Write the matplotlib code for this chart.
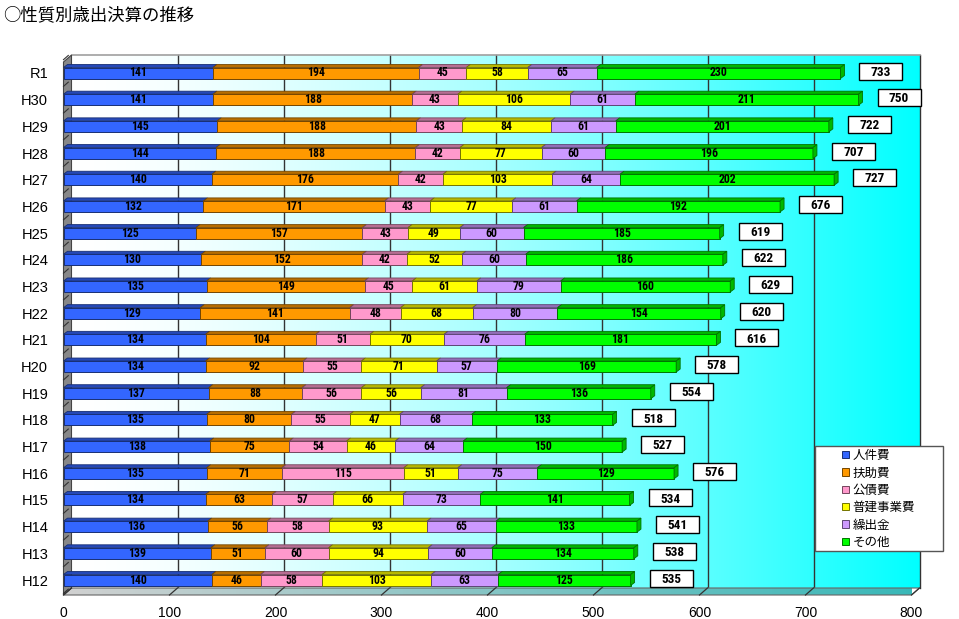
import numpy as np
import matplotlib
matplotlib.use('Agg')
import matplotlib.pyplot as plt
from matplotlib import font_manager as fm
from matplotlib.patches import Polygon, Rectangle
from matplotlib.colors import to_rgb

# ---------------- data ----------------
categories = ['R1', 'H30', 'H29', 'H28', 'H27', 'H26', 'H25', 'H24', 'H23', 'H22',
              'H21', 'H20', 'H19', 'H18', 'H17', 'H16', 'H15', 'H14', 'H13', 'H12']
series_names = ['人件費', '扶助費', '公債費', '普建事業費', '繰出金', 'その他']
personnel = [141, 141, 145, 144, 140, 132, 125, 130, 135, 129, 134, 134, 137, 135, 138, 135, 134, 136, 139, 140]
assistance = [194, 188, 188, 188, 176, 171, 157, 152, 149, 141, 104, 92, 88, 80, 75, 71, 63, 56, 51, 46]
debt = [45, 43, 43, 42, 42, 43, 43, 42, 45, 48, 51, 55, 56, 55, 54, 115, 57, 58, 60, 58]
construction = [58, 106, 84, 77, 103, 77, 49, 52, 61, 68, 70, 71, 56, 47, 46, 51, 66, 93, 94, 103]
transfers = [65, 61, 61, 60, 64, 61, 60, 60, 79, 80, 76, 57, 81, 68, 64, 75, 73, 65, 60, 63]
other = [230, 211, 201, 196, 202, 192, 185, 186, 160, 154, 181, 169, 136, 133, 150, 129, 141, 133, 134, 125]
totals = [733, 750, 722, 707, 727, 676, 619, 622, 629, 620, 616, 578, 554, 518, 527, 576, 534, 541, 538, 535]
xticks = [0, 100, 200, 300, 400, 500, 600, 700, 800]
title = '○性質別歳出決算の推移'

series = [personnel, assistance, debt, construction, transfers, other]
face_colors = ['#3366FF', '#FF9900', '#FF99CC', '#FFFF00', '#CC99FF', '#00FF00']


def pick(names):
    for n in names:
        try:
            fm.findfont(fm.FontProperties(family=n), fallback_to_default=False)
            return n
        except Exception:
            pass
    return 'DejaVu Sans'


CJK = pick(['Noto Sans CJK JP', 'Noto Sans CJK SC'])
NARROW = pick(['Liberation Sans Narrow', 'Roboto Condensed', 'DejaVu Sans'])
SANS = pick(['Liberation Sans', 'Arial', 'DejaVu Sans'])

W, H = 959, 619
fig = plt.figure(figsize=(W / 100, H / 100), dpi=100)
fig.patch.set_facecolor('white')

# front plane layout (pixels)
ax_left_px, ax_right_px = 63.5, 911.5
ax_top_px, ax_bot_px = 62, 595
first_c, last_c = 73, 580
ax = fig.add_axes([ax_left_px / W, 1 - ax_bot_px / H,
                   (ax_right_px - ax_left_px) / W, (ax_bot_px - ax_top_px) / H])
ax.set_facecolor('none')

n = len(categories)
ypos = np.arange(n)
row_px = (last_c - first_c) / (n - 1)
y_top = -(first_c - ax_top_px) / row_px
y_bot = (n - 1) + (ax_bot_px - last_c) / row_px
xmax = xticks[-1]

ux = xmax / (ax_right_px - ax_left_px)   # data units per pixel (x)
uy = -1.0 / row_px                        # data units per pixel upward (y)

wall_dx, wall_dy = 8 * ux, 7 * uy
bd_x, bd_y = 4 * ux, 3 * uy
bar_h = 11 / row_px

# back wall gradient
t = np.linspace(0, 1, 400)
r = 1 - t ** 1.5
grad = np.dstack([r, np.ones_like(t), np.ones_like(t)])
ax.imshow(grad, extent=[wall_dx, xmax + wall_dx, y_bot + wall_dy, y_top + wall_dy],
          aspect='auto', zorder=0, clip_on=False, interpolation='bilinear')

# gridlines on back wall
for v in xticks[1:]:
    ax.plot([v + wall_dx, v + wall_dx], [y_bot + wall_dy, y_top + wall_dy],
            color='#333333', lw=1.0, zorder=1, clip_on=False)
ax.plot([wall_dx, xmax + wall_dx], [y_top + wall_dy, y_top + wall_dy],
        color='#a0a0a0', lw=1.2, zorder=1, clip_on=False)

# floor
floor_poly = Polygon([(0, y_bot), (xmax, y_bot), (xmax + wall_dx, y_bot + wall_dy),
                      (wall_dx, y_bot + wall_dy)], closed=True, fc='none', ec='#666666',
                     lw=0.8, zorder=2, clip_on=False)
ax.add_patch(floor_poly)
fl = np.linspace(0, 1, 400)
c0 = np.array([0.82, 0.82, 0.82])
c1 = np.array([0.22, 0.72, 0.72])
fgrad = (c0[None, :] * (1 - fl[:, None]) + c1[None, :] * fl[:, None])[None, :, :]
fim = ax.imshow(fgrad, extent=[0, xmax + wall_dx, y_bot, y_bot + wall_dy], aspect='auto',
                zorder=1.5, clip_on=True, interpolation='bilinear')
fim.set_clip_path(floor_poly)
for v in xticks:
    ax.plot([v, v + wall_dx], [y_bot, y_bot + wall_dy], color='#333333', lw=0.9,
            zorder=2.1, clip_on=False)

# left wall
lw_poly = Polygon([(0, y_bot), (0, y_top), (wall_dx, y_top + wall_dy), (wall_dx, y_bot + wall_dy)],
                  closed=True, fc='#888888', ec='#444444', lw=0.8, zorder=2, clip_on=False)
ax.add_patch(lw_poly)
for i in range(n + 1):
    yy = i - 0.5
    ax.plot([0, wall_dx * 0.6], [yy, yy + wall_dy * 0.6], color='#333333', lw=0.8,
            zorder=2.1, clip_on=False)

ax.set_xlim(0, xmax)
ax.set_ylim(y_bot, y_top)


def shade(c, f):
    return tuple(np.clip(np.array(to_rgb(c)) * f, 0, 1))


# bars
left = np.zeros(n)
handles = []
for k, vals in enumerate(series):
    vals = np.array(vals, dtype=float)
    fc = face_colors[k]
    ec = shade(fc, 0.45)
    bc = ax.barh(ypos, vals, left=left, height=bar_h, color=fc, edgecolor=ec, lw=0.7,
                 zorder=3, label=series_names[k])
    handles.append(bc)
    for i in range(n):
        l, rr = left[i], left[i] + vals[i]
        yt, yb = ypos[i] - bar_h / 2, ypos[i] + bar_h / 2
        ax.add_patch(Polygon([(l, yt), (rr, yt), (rr + bd_x, yt + bd_y), (l + bd_x, yt + bd_y)],
                             closed=True, fc=shade(fc, 0.72), ec=ec, lw=0.6, zorder=3.2,
                             clip_on=False))
        if k == len(series) - 1:
            ax.add_patch(Polygon([(rr, yt), (rr + bd_x, yt + bd_y), (rr + bd_x, yb + bd_y), (rr, yb)],
                                 closed=True, fc=shade(fc, 0.72), ec=ec, lw=0.6, zorder=3.2,
                                 clip_on=False))
        ax.text(l + vals[i] / 2, ypos[i], f'{int(vals[i])}', ha='center', va='center',
                fontsize=8.5, fontweight='bold', family=NARROW, color='black', zorder=4)
    left = left + vals

# total boxes
box_w, box_h = 43 * ux, 17 * abs(uy)
for i in range(n):
    bl = totals[i] + 19 * ux
    cy = ypos[i] + 2 * uy
    ax.add_patch(Rectangle((bl, cy - box_h / 2), box_w, box_h, fc='white', ec='black',
                           lw=1.0, zorder=4, clip_on=False))
    ax.text(bl + box_w / 2, cy - 1.2 * uy, f'{totals[i]}', ha='center', va='center',
            fontsize=9.5, fontweight='bold', family=NARROW, zorder=5)

# axes styling
for s in ax.spines.values():
    s.set_visible(False)
ax.set_xticks(xticks)
ax.set_xticklabels([str(v) for v in xticks], family=SANS, fontsize=10)
ax.set_yticks(ypos)
ax.set_yticklabels(categories, family=SANS, fontsize=10.5)
ax.tick_params(axis='x', length=0, pad=8)
ax.tick_params(axis='y', length=0, pad=11)

# legend
fig.add_artist(Rectangle((815 / W, 1 - 551 / H), 128 / W, 105 / H, transform=fig.transFigure,
                         fc='white', ec='#555555', lw=1.0, zorder=4))
leg = fig.legend(handles=handles, labels=series_names, loc='upper left',
                 bbox_to_anchor=(842 / W, 1 - 449 / H), frameon=False,
                 prop=fm.FontProperties(family=CJK, size=9), handlelength=0.55,
                 handleheight=0.55, handletextpad=0.3, labelspacing=0.35,
                 borderpad=0, borderaxespad=0)
leg.set_zorder(5)

fig.text(3 / W, 1 - 15 / H, title, ha='left', va='center', fontsize=12.5, family=CJK)

fig.savefig('out.png', dpi=100)
